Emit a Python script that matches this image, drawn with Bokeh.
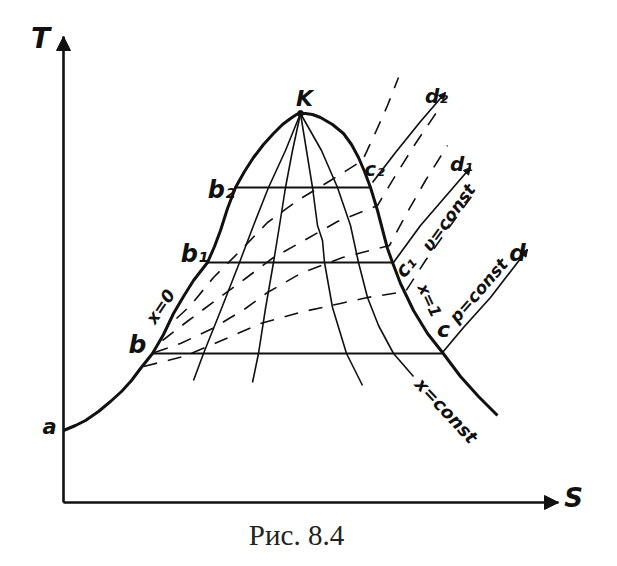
from bokeh.plotting import figure
from bokeh.models import Range1d, Arrow, NormalHead, ColumnDataSource
from bokeh.core.properties import value
from bokeh.embed import file_html
from bokeh.resources import INLINE
import math

# ---- schematic data (image-like coordinates, y grows downward) ----
t_axis_x = [63, 63]
t_axis_y = [502, 36]
s_axis_x = [63, 558]
s_axis_y = [502, 502]

sat_left_x = [63, 75, 85, 98, 110, 121, 131, 140, 152, 163, 173, 183, 193, 207, 214, 220, 227, 235,
              244, 253, 263, 273, 282, 290, 296, 300]
sat_left_y = [430, 425, 420, 411, 401, 391, 380, 368, 353, 334, 313, 296, 280, 262, 246, 230, 208, 187,
              171, 157, 144, 133, 124, 118, 114, 113]
sat_right_x = [300, 305, 312, 320, 332, 343, 351, 358, 364, 370, 377, 383, 387, 392, 400, 413, 427,
               442, 451, 460, 469, 478, 488, 497]
sat_right_y = [113, 113, 114, 117, 124, 133, 144, 157, 171, 187, 210, 233, 248, 262, 283, 310, 333,
               352, 364, 376, 386, 396, 406, 415]

iso_y = [187, 262, 353]
iso_x0 = [235, 207, 152]
iso_x1 = [370, 392, 442]

xc1_x = [300, 285, 268, 253, 239, 221, 203, 193]
xc1_y = [113, 150, 187, 225, 262, 308, 353, 380]
xc2_x = [300, 292, 285, 279, 273, 265, 258, 252]
xc2_y = [113, 150, 187, 225, 262, 308, 353, 382]
xc3_x = [300, 306, 312, 317, 322, 324, 332, 346, 362]
xc3_y = [113, 150, 187, 225, 240, 262, 307, 353, 385]
xc4_x = [300, 321, 337, 350, 358, 367, 378, 393, 413]
xc4_y = [113, 150, 187, 225, 262, 297, 325, 353, 376]

v1_x = [176, 190, 213, 240, 267, 297, 330, 362, 375, 387, 398]
v1_y = [318, 305, 277, 250, 222, 200, 180, 160, 132, 105, 77]
v2_x = [162, 188, 215, 245, 273, 307, 337, 377, 395, 415, 436]
v2_y = [340, 320, 300, 278, 257, 238, 221, 205, 175, 143, 112]
v3_x = [154, 180, 212, 245, 267, 300, 342, 389, 405, 425, 447]
v3_y = [352, 343, 328, 308, 292, 273, 257, 245, 215, 180, 145]
v4_x = [143, 183, 212, 260, 303, 340, 367, 405, 425, 450, 474]
v4_y = [366, 356, 344, 323, 311, 303, 297, 291, 260, 225, 192]

pd2_x = [372, 395, 420, 445]
pd2_y = [182, 152, 121, 92]
pd1_x = [393, 420, 445, 470]
pd1_y = [262, 225, 196, 167]
pd_x = [442, 463, 490, 527]
pd_y = [352, 327, 297, 249]

lab_text = ["T", "S", "a", "b", "b\u2081", "b\u2082", "K", "c", "c\u2081", "c\u2082",
            "d", "d\u2081", "d\u2082", "x=0", "x=1", "x=const", "\u03c5=const", "p=const"]
lab_x = [40, 573, 49, 137, 194, 221, 304, 443, 405, 374, 517, 461, 436, 160, 429, 446, 448, 478]
lab_y = [38, 497, 426, 344, 253, 189, 98, 329, 266, 168, 252, 163, 95, 306, 300, 410, 217, 290]
lab_angle = [0, 0, 0, 0, 0, 0, 0, 0, 50, 0, 0, 0, 0, 56, -65, -47, 54, 49]
lab_size = ["28px", "26px", "21px", "25px", "24px", "24px", "22px", "22px", "20px", "20px",
            "23px", "20px", "20px", "17px", "16px", "18px", "17px", "17px"]

caption = "Рис. 8.4"
caption_x = [296]
caption_y = [534]

k_x = [300]
k_y = [113]

# ---- figure ----
p = figure(width=601, height=550, x_range=Range1d(0, 601), y_range=Range1d(550, 0),
           x_axis_type=None, y_axis_type=None, output_backend="svg",
           toolbar_location=None, min_border=0)
p.grid.visible = False
p.outline_line_color = None
p.background_fill_color = "white"

ink = "#111111"

# axes
p.line(t_axis_x, t_axis_y, line_width=2.6, color=ink)
p.line(s_axis_x, s_axis_y, line_width=2.6, color=ink)
p.add_layout(Arrow(end=NormalHead(size=14, fill_color=ink, line_color=ink, line_width=1),
                   x_start=t_axis_x[0], y_start=t_axis_y[0], x_end=t_axis_x[1], y_end=t_axis_y[1],
                   line_width=0, line_alpha=0))
p.add_layout(Arrow(end=NormalHead(size=14, fill_color=ink, line_color=ink, line_width=1),
                   x_start=s_axis_x[0], y_start=s_axis_y[0], x_end=s_axis_x[1], y_end=s_axis_y[1],
                   line_width=0, line_alpha=0))

# saturation curve
p.line(sat_left_x, sat_left_y, line_width=3, color=ink, line_join="round")
p.line(sat_right_x, sat_right_y, line_width=3, color=ink, line_join="round")

# isotherms in the wet region
p.segment(x0=iso_x0, y0=iso_y, x1=iso_x1, y1=iso_y, line_width=1.8, color=ink)

# x = const lines
for xs, ys in [(xc1_x, xc1_y), (xc2_x, xc2_y), (xc3_x, xc3_y), (xc4_x, xc4_y)]:
    p.line(xs, ys, line_width=1.6, color=ink, line_join="round")

# v = const dashed lines
for xs, ys in [(v1_x, v1_y), (v2_x, v2_y), (v3_x, v3_y), (v4_x, v4_y)]:
    p.line(xs, ys, line_width=1.6, color=ink, line_dash="14 11", line_join="round")

# p = const lines in superheated region
for xs, ys in [(pd2_x, pd2_y), (pd1_x, pd1_y), (pd_x, pd_y)]:
    p.line(xs, ys, line_width=1.7, color=ink, line_join="round")
    p.add_layout(Arrow(end=NormalHead(size=7, fill_color=ink, line_color=ink, line_width=1),
                       x_start=xs[-2], y_start=ys[-2], x_end=xs[-1], y_end=ys[-1],
                       line_width=0, line_alpha=0))

# critical point
p.scatter(k_x, k_y, size=6, color=ink)

# labels
src = ColumnDataSource(dict(x=lab_x, y=lab_y, text=lab_text,
                            angle=[math.radians(a) for a in lab_angle], size=lab_size))
p.text(x="x", y="y", text="text", angle="angle", source=src,
       text_font=value("DejaVu Sans"), text_font_style="bold italic",
       text_font_size="size", text_align="center", text_baseline="middle", text_color=ink)

p.text(x=caption_x, y=caption_y, text=[caption], text_font=value("Liberation Serif"),
       text_font_size="29px", text_align="center", text_baseline="middle", text_color="#222222")

open("out.html", "w").write(file_html(p, INLINE))
